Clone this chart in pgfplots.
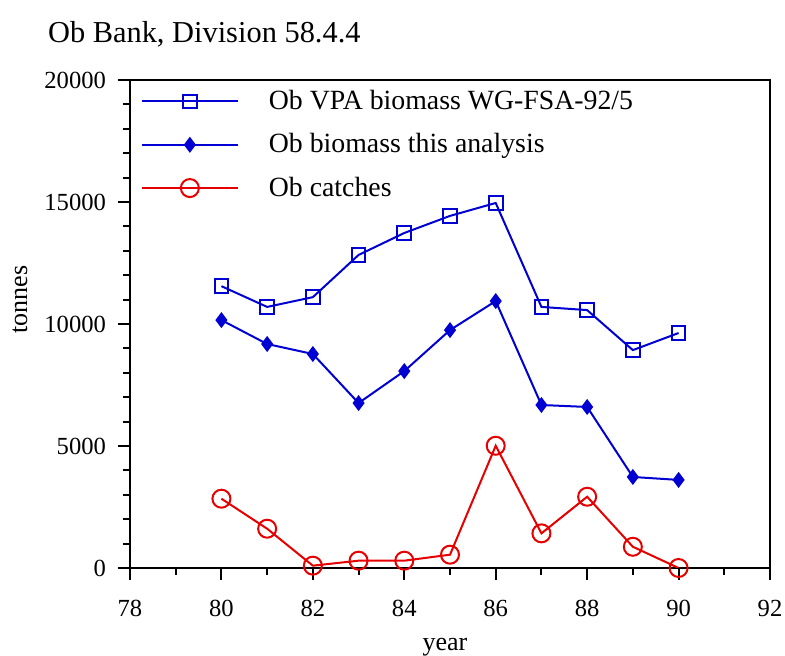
\documentclass[border=0pt]{standalone}
\usepackage{pgfplots}
\pgfplotsset{compat=1.18}
\usepackage{fontspec}
\setmainfont{Liberation Serif}

\definecolor{vpablue}{RGB}{0,0,210}
\definecolor{catchred}{RGB}{230,0,0}

\begin{document}
\begin{tikzpicture}
\begin{axis}[
  name=ax,
  scale only axis,
  width=320pt, height=244pt,
  xmin=78, xmax=92, ymin=0, ymax=20000,
  xtick={78,80,...,92}, minor xtick={79,81,...,91},
  ytick={0,5000,...,20000}, minor ytick={1000,2000,...,19000},
  tick pos=left, tick align=outside,
  major tick length=6pt, minor tick length=3.5pt,
  every tick/.style={black, line width=1pt},
  axis line style={line width=1pt},
  scaled y ticks=false,
  /pgf/number format/.cd, 1000 sep={}, assume math mode=true, /pgfplots/.cd,
  tick label style={font=\fontsize{12.3}{14}\selectfont},
  xticklabel style={yshift=-6.5pt},
  yticklabel style={xshift=-2.5pt},
  xlabel={year}, ylabel={tonnes},
  label style={font=\fontsize{13}{15}\selectfont},
  xlabel style={at={(axis description cs:0.492,-0.163)}, anchor=center},
  ylabel style={at={(axis description cs:-0.172,0.55)}, anchor=center},
  title={Ob Bank, Division 58.4.4},
  title style={at={(axis description cs:-0.139,1.07)}, anchor=west, yshift=0pt, font=\fontsize{15.2}{17}\selectfont},
  legend style={at={(axis description cs:0.007,0.996)}, anchor=north west, draw=none, fill=none,
    font=\fontsize{13.9}{16}\selectfont, row sep=6.5pt, nodes={inner xsep=8pt},
    /tikz/every odd column/.append style={column sep=7pt}},
  legend cell align=left,
  legend image code/.code={\draw[#1, mark repeat=2, mark phase=2] plot coordinates {(0pt,0pt) (24pt,0pt) (48pt,0pt)};},
]
\addplot[vpablue, line width=1pt, mark=square, mark size=3.4pt, mark options={fill=white, solid}]
  coordinates {(80,11550) (81,10700) (82,11100) (83,12830) (84,13730) (85,14430) (86,14960)
               (87,10700) (88,10570) (89,8930) (90,9630)};
\addlegendentry{Ob VPA biomass WG-FSA-92/5}
\addplot[vpablue, line width=1pt, mark=diamond*, mark size=3.2pt, mark options={fill=vpablue, solid}]
  coordinates {(80,10160) (81,9180) (82,8770) (83,6760) (84,8070) (85,9750) (86,10940)
               (87,6680) (88,6600) (89,3730) (90,3610)};
\addlegendentry{Ob biomass this analysis}
\addplot[catchred, line width=1pt, mark=o, mark size=4.5pt, mark options={fill=white, solid}]
  coordinates {(80,2840) (81,1610) (82,95) (83,300) (84,300) (85,545) (86,5010)
               (87,1420) (88,2920) (89,870) (90,0)};
\addlegendentry{Ob catches}
\end{axis}
\pgfresetboundingbox
\path[use as bounding box] ([shift={(-65pt,-44pt)}]ax.south west) rectangle ([shift={(7.5pt,40pt)}]ax.north east);
\end{tikzpicture}
\end{document}
